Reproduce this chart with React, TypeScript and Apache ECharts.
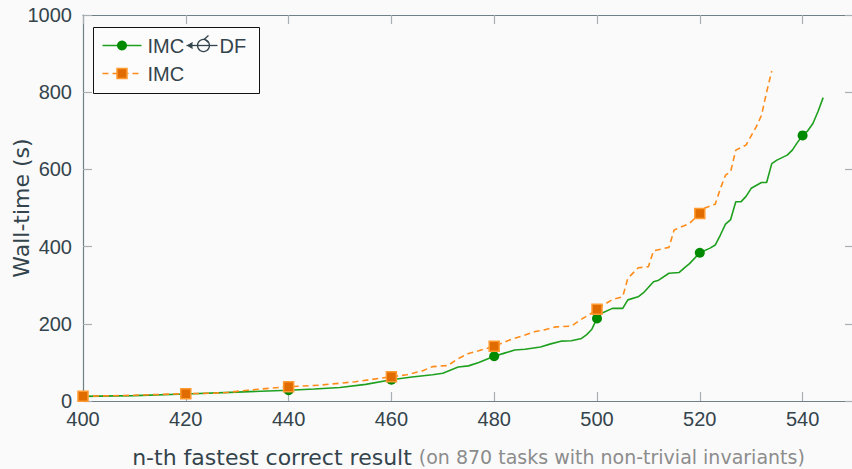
import React, { useEffect, useRef } from "react";
import * as echarts from "echarts";

const greenX = [400, 410, 420, 430, 440, 445, 450, 455, 460, 464, 468, 470, 473, 475, 477, 480, 482, 484, 486, 489, 491, 493, 495, 497, 498, 499, 500, 501, 503, 505, 506, 508, 509, 511, 512, 514, 516, 517, 518, 520, 522, 523, 524, 525, 526, 527, 528, 529, 530, 532, 533, 534, 535, 537, 538, 539, 540, 541, 542, 543, 544];
const greenY = [12, 14, 18, 23, 28, 31, 35, 43, 55, 62, 68, 72, 88, 91, 100, 116, 124, 132, 134, 140, 148, 155, 156, 162, 172, 186, 214, 228, 240, 240, 262, 270, 280, 309, 313, 331, 333, 345, 356, 384, 396, 404, 430, 458, 470, 516, 516, 530, 551, 566, 566, 615, 624, 637, 650, 670, 688, 700, 719, 750, 786];

const orangeX = [400, 410, 420, 425, 428, 432, 440, 446, 453, 460, 463, 466, 468, 471, 473, 475, 477, 480, 483, 486, 488, 490, 492, 495, 497, 499, 500, 503, 505, 506, 508, 510, 511, 514, 515, 518, 520, 521, 523, 524, 525, 526, 527, 529, 531, 532, 533, 534];
const orangeY = [12, 15, 19, 20, 22, 28, 37, 41, 50, 63, 68, 78, 89, 92, 110, 123, 130, 142, 158, 171, 180, 185, 192, 194, 212, 228, 238, 263, 270, 318, 345, 348, 389, 398, 443, 460, 486, 500, 510, 550, 585, 594, 650, 663, 711, 740, 800, 855];

const xTicks = { min: 400, max: 550, interval: 20 };
const yTicks = { min: 0, max: 1000, interval: 200 };

const legendNames = ["IMC", "DF", "IMC"];

const TEXT = "#34444c";
const AXIS = "#6f7f86";
const TICK = "#a8b0b4";
const GREEN_LINE = "#1ea01e";
const GREEN_MARK = "#008a00";
const ORANGE_LINE = "#ff8c1a";
const ORANGE_MARK = "#e06c00";
const FONT = "Liberation Sans";
const NAME_FONT = "DejaVu Sans";

export default function App() {
  const ref = useRef<HTMLDivElement>(null);
  useEffect(() => {
    if (!ref.current) return;
    const chart = echarts.init(ref.current, null, { renderer: "svg" });
    const gData = greenX.map((x, i) => [x, greenY[i]]);
    const oData = orangeX.map((x, i) => [x, orangeY[i]]);
    const markSize = (v: number[]) => (v[0] % 20 === 0 ? 10 : 0);
    const xCommon = {
      type: "value" as const,
      min: xTicks.min,
      max: xTicks.max,
      interval: xTicks.interval,
      splitLine: { show: false },
      axisLine: { show: true, onZero: false, lineStyle: { color: AXIS, width: 1.2 } },
      axisTick: { show: true, inside: true, length: 9, lineStyle: { color: TICK, width: 1.2 } },
    };
    const yCommon = {
      type: "value" as const,
      min: yTicks.min,
      max: yTicks.max,
      interval: yTicks.interval,
      splitLine: { show: false },
      axisLine: { show: true, onZero: false, lineStyle: { color: AXIS, width: 1.2 } },
      axisTick: { show: true, inside: true, length: 9, lineStyle: { color: TICK, width: 1.2 } },
    };
    chart.setOption({
      animation: false,
      backgroundColor: "#fafafa",
      textStyle: { fontFamily: FONT },
      grid: { left: 83, top: 15, width: 771, height: 386, containLabel: false, outerBoundsMode: "none" },
      xAxis: [
        {
          ...xCommon,
          position: "bottom",
          axisLabel: { fontSize: 20, color: TEXT, margin: 8, showMaxLabel: false, fontFamily: FONT, formatter: (v: number) => String(v) },
          name: "{a|n-th fastest correct result }{b|(on 870 tasks with non-trivial invariants)}",
          nameLocation: "middle",
          nameGap: 45,
          nameTextStyle: {
            rich: {
              a: { fontSize: 22, color: TEXT, fontFamily: NAME_FONT },
              b: { fontSize: 19, color: "#8c8c8c", fontFamily: NAME_FONT },
            },
          },
        },
        { ...xCommon, position: "top", axisLabel: { show: false } },
      ],
      yAxis: [
        {
          ...yCommon,
          position: "left",
          axisLabel: { fontSize: 20, color: TEXT, margin: 11, fontFamily: FONT, formatter: (v: number) => String(v) },
          name: "Wall-time (s)",
          nameLocation: "middle",
          nameGap: 51,
          nameMoveOverlap: false,
          nameTextStyle: { fontSize: 22, color: TEXT, fontFamily: NAME_FONT },
        },
        { ...yCommon, position: "right", axisLabel: { show: false } },
      ],
      series: [
        {
          type: "line",
          name: "IMC-DF",
          data: gData,
          showSymbol: true,
          showAllSymbol: true,
          symbol: "circle",
          symbolSize: markSize,
          lineStyle: { color: GREEN_LINE, width: 1.6 },
          itemStyle: { color: GREEN_MARK },
        },
        {
          type: "line",
          name: "IMC",
          data: oData,
          showSymbol: true,
          showAllSymbol: true,
          symbol: "rect",
          symbolSize: markSize,
          lineStyle: { color: ORANGE_LINE, width: 1.6, type: [6, 4] },
          itemStyle: { color: ORANGE_MARK, borderColor: "#ff9a30", borderWidth: 1.5 },
        },
      ],
      graphic: [
        {
          type: "group",
          left: 93,
          top: 27,
          children: [
            { type: "rect", shape: { x: 0, y: 0, width: 166, height: 66 }, style: { fill: "#fcfcfc", stroke: "#111", lineWidth: 1 } },
            { type: "line", shape: { x1: 9, y1: 18, x2: 48, y2: 18 }, style: { stroke: GREEN_LINE, lineWidth: 1.6 } },
            { type: "circle", shape: { cx: 28.5, cy: 18, r: 5 }, style: { fill: GREEN_MARK } },
            { type: "text", x: 54, y: 18, style: { text: legendNames[0], font: `20px "${FONT}"`, fill: TEXT, verticalAlign: "middle" } },
            { type: "line", shape: { x1: 93, y1: 18, x2: 124, y2: 18 }, style: { stroke: TEXT, lineWidth: 1.3 } },
            { type: "polyline", shape: { points: [[99, 15], [94, 18], [99, 21]] }, style: { stroke: TEXT, fill: TEXT, lineWidth: 1 } },
            { type: "circle", shape: { cx: 110, cy: 18, r: 6 }, style: { fill: "none", stroke: TEXT, lineWidth: 1.3 } },
            { type: "polyline", shape: { points: [[115, 8], [111, 11.5], [115, 15]] }, style: { stroke: TEXT, fill: "none", lineWidth: 1.3 } },
            { type: "text", x: 126, y: 18, style: { text: legendNames[1], font: `20px "${FONT}"`, fill: TEXT, verticalAlign: "middle" } },
            { type: "line", shape: { x1: 9, y1: 46, x2: 48, y2: 46 }, style: { stroke: ORANGE_LINE, lineWidth: 1.6, lineDash: [6, 4] } },
            { type: "rect", shape: { x: 23.5, y: 41, width: 10, height: 10 }, style: { fill: ORANGE_MARK, stroke: "#ff9a30", lineWidth: 1.5 } },
            { type: "text", x: 54, y: 46, style: { text: legendNames[2], font: `20px "${FONT}"`, fill: TEXT, verticalAlign: "middle" } },
          ],
        },
      ],
    });
    return () => chart.dispose();
  }, []);
  return (
    <div
      ref={ref}
      style={{ position: "absolute", left: 0, top: 0, width: 852, height: 469, background: "#fafafa" }}
    />
  );
}
